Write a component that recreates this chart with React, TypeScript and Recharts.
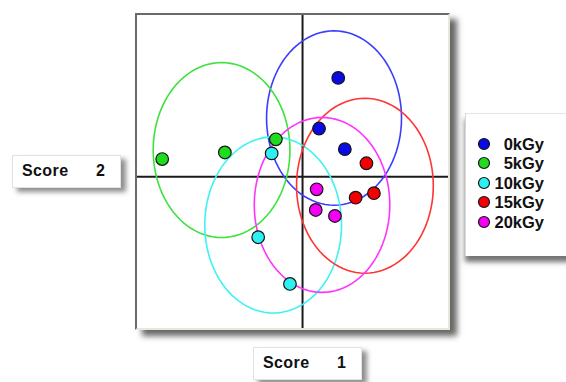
import React from "react";
import {
  ScatterChart,
  Scatter,
  XAxis,
  YAxis,
  ZAxis,
  ReferenceLine,
} from "recharts";

// dose groups
const groups = ["0kGy", "5kGy", "10kGy", "15kGy", "20kGy"];

// sample scores per group (score 1 = horizontal, score 2 = vertical)
const score1 = [
  [1.19, 0.55, 1.41],
  [-4.68, -2.59, -0.89],
  [-1.03, -1.48, -0.42],
  [2.13, 1.77, 2.38],
  [0.47, 0.44, 1.08],
];
const score2 = [
  [3.3, 1.61, 0.92],
  [0.59, 0.81, 1.25],
  [0.78, -2.02, -3.58],
  [0.45, -0.7, -0.55],
  [-0.42, -1.11, -1.31],
];

// confidence ellipse per group: centre and semi-axes
const ellipseCx = [1.05, -2.7, -0.98, 2.08, 0.65];
const ellipseCy = [1.96, 0.89, -1.61, -0.3, -0.94];
const ellipseRx = [2.25, 2.28, 2.28, 2.28, 2.26];
const ellipseRy = [2.91, 2.92, 2.94, 2.92, 2.92];

const dotColors = ["#0a0ae6", "#1fdc1f", "#2ff0f0", "#f50000", "#f500f5"];
const ringColors = ["#3c3cff", "#3ee23e", "#3ef2f2", "#ff3434", "#ff34ff"];

const FONT = "'Liberation Sans', Arial, sans-serif";

function ellipseOutline(i: number) {
  const pts = [];
  for (let k = 0; k <= 96; k++) {
    const t = (k / 96) * Math.PI * 2;
    pts.push({
      x: ellipseCx[i] + ellipseRx[i] * Math.cos(t),
      y: ellipseCy[i] + ellipseRy[i] * Math.sin(t),
    });
  }
  return pts;
}

const Dot = (props: any) => {
  const { cx, cy, fill } = props;
  if (cx == null || cy == null) return <g />;
  return <circle cx={cx} cy={cy} r={6.3} fill={fill} stroke="#151515" strokeWidth={1.2} />;
};

const LegendBox = () => (
  <div
    style={{
      position: "absolute",
      left: 465,
      top: 113,
      width: 110,
      height: 142,
      background: "#fff",
      borderLeft: "1px solid #d8d8d8",
      borderTop: "1px solid #e4e4e4",
      boxShadow: "0px 6px 5px rgba(0,0,0,0.55)",
      fontFamily: FONT,
    }}
  >
    {groups.map((g, i) => (
      <div
        key={g}
        style={{
          position: "absolute",
          left: 0,
          top: 20 + i * 19.4,
          width: 78,
          height: 20,
        }}
      >
        <svg width={14} height={14} style={{ position: "absolute", left: 11, top: 3 }}>
          <circle cx={7} cy={7} r={5.5} fill={dotColors[i]} stroke="#151515" strokeWidth={1.2} />
        </svg>
        <span
          style={{
            position: "absolute",
            right: 0,
            top: 0,
            fontSize: 16.5,
            fontWeight: 700,
            lineHeight: "20px",
            color: "#111",
          }}
        >
          {g}
        </span>
      </div>
    ))}
  </div>
);

const ScoreLabel = ({ n, left, top }: { n: number; left: number; top: number }) => (
  <div
    style={{
      position: "absolute",
      left,
      top,
      width: 107,
      height: 31,
      background: "#fff",
      border: "1px solid #e2e2e2",
      boxShadow: "5px 4px 5px rgba(0,0,0,0.45)",
      fontFamily: FONT,
      fontWeight: 700,
      fontSize: 16,
      color: "#111",
    }}
  >
    <span style={{ position: "absolute", left: 9, top: 6, letterSpacing: 0.4 }}>Score</span>
    <span style={{ position: "absolute", left: 83, top: 6 }}>{n}</span>
  </div>
);

export default function App() {
  return (
    <div
      style={{
        position: "absolute",
        left: 0,
        top: 0,
        width: 566,
        height: 382,
        background: "#fff",
        overflow: "hidden",
      }}
    >
      {/* plot frame */}
      <div
        style={{
          position: "absolute",
          left: 135,
          top: 13,
          width: 311,
          height: 313,
          background: "#fff",
          borderStyle: "solid",
          borderWidth: 2,
          borderColor: "#6a6a6a #e9e6da #e9e6da #6a6a6a",
          boxShadow: "7px 6px 6px rgba(0,0,0,0.6)",
        }}
      />

      <div style={{ position: "absolute", left: 0, top: 0 }}>
        <ScatterChart
          width={566}
          height={382}
          margin={{ left: 137, top: 15, right: 118, bottom: 54 }}
        >
          <XAxis type="number" dataKey="x" domain={[-5.52, 4.85]} hide allowDataOverflow />
          <YAxis type="number" dataKey="y" domain={[-5.05, 5.4]} hide allowDataOverflow />
          <ZAxis range={[60, 60]} />
          <ReferenceLine x={0} stroke="#1a1a1a" strokeWidth={2} />
          <ReferenceLine y={0} stroke="#1a1a1a" strokeWidth={2} />
          {groups.map((g, i) => (
            <Scatter
              key={`ring-${g}`}
              name={`ring-${g}`}
              data={ellipseOutline(i)}
              line={{ stroke: ringColors[i], strokeWidth: 1.6 }}
              lineType="joint"
              shape={() => <g />}
              legendType="none"
              isAnimationActive={false}
            />
          ))}
          {groups.map((g, i) => (
            <Scatter
              key={g}
              name={g}
              data={score1[i].map((x, k) => ({ x, y: score2[i][k] }))}
              fill={dotColors[i]}
              shape={<Dot />}
              isAnimationActive={false}
            />
          ))}
        </ScatterChart>
      </div>

      <LegendBox />
      <ScoreLabel n={2} left={12} top={155} />
      <ScoreLabel n={1} left={253} top={347} />
    </div>
  );
}
